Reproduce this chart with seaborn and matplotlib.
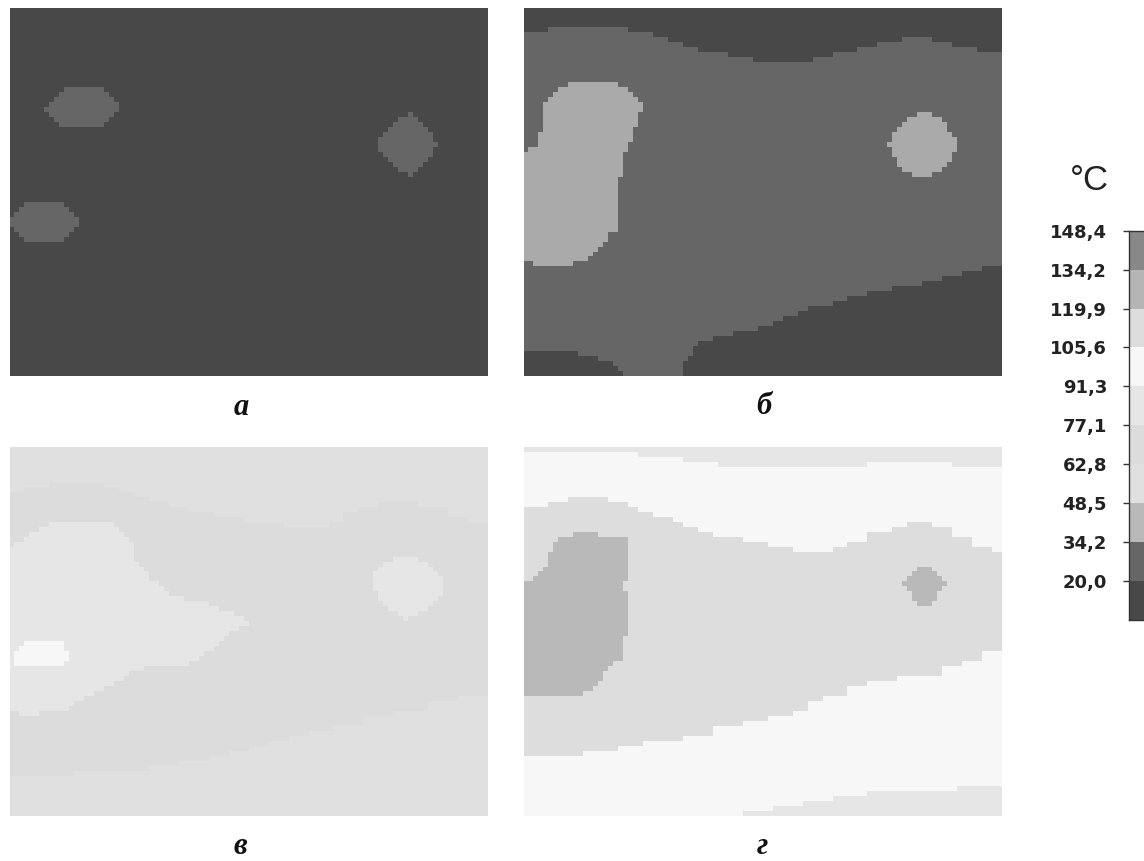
import numpy as np
import matplotlib
matplotlib.use('Agg')
import matplotlib.pyplot as plt
from matplotlib.colors import ListedColormap
import seaborn as sns

# --- data: every panel is a 74 x 96 grid of temperature bands ---
N_ROWS = 74
N_COLS = 96

# band colours, coldest first; the last one is the lighter shade of panel б
band_colors = ['#484848', '#666666', '#b9b9b9', '#e0e0e0', '#dcdcdc',
               '#e6e6e6', '#f7f7f7', '#dddddd', '#b5b5b5', '#888888', '#aaaaaa']
scale_labels = ['148,4', '134,2', '119,9', '105,6', '91,3', '77,1', '62,8', '48,5', '34,2', '20,0']
scale_bands = [9, 8, 7, 6, 5, 4, 3, 2, 1, 0]
panel_labels = ['а', 'б', 'в', 'г']

# panel а: (first row, spans per row)
a_spot_left_top = (16, [(11, 19), (10, 20), (9, 21), (8, 22), (7, 22), (8, 21), (9, 20), (10, 19)])
a_spot_left_low = (39, [(3, 11), (2, 12), (1, 13), (0, 14), (0, 14), (1, 13), (2, 12), (3, 11)])
a_spot_right = (21, [(80, 81), (78, 82), (77, 83), (76, 84), (75, 85), (74, 85), (74, 86), (74, 85),
                     (75, 85), (76, 84), (77, 83), (78, 82), (80, 81)])

# panel б: (depth, number of columns)
b_top = [(5, 5), (4, 16), (5, 5), (6, 3), (7, 3), (8, 3), (9, 6), (10, 5), (11, 12), (10, 4),
         (9, 5), (8, 4), (7, 5), (6, 6), (7, 4), (8, 5), (9, 5)]
b_bottom = [(5, 11), (4, 4), (3, 3), (2, 1), (1, 1), (0, 12), (3, 1), (4, 1), (6, 1), (7, 3), (8, 4),
            (9, 5), (10, 3), (11, 2), (12, 3), (13, 2), (14, 5), (15, 3), (16, 4), (17, 5), (18, 6),
            (19, 4), (20, 4), (21, 4), (22, 4)]
b_blob = (15, [(9, 19), (7, 21), (6, 22), (5, 23), (4, 24), (4, 24), (4, 23), (4, 23), (4, 23), (4, 22),
               (3, 22), (3, 22), (3, 21), (1, 21), (0, 20), (0, 20), (0, 20), (0, 20), (0, 20), (0, 19),
               (0, 19), (0, 19), (0, 19), (0, 19), (0, 19), (0, 19), (0, 19), (0, 19), (0, 19), (0, 19),
               (0, 17), (0, 17), (0, 16), (0, 15), (0, 14), (0, 13), (2, 10)])
b_spot = (21, [(79, 82), (77, 84), (76, 85), (75, 85), (74, 86), (74, 87), (73, 87), (74, 87),
               (74, 86), (75, 86), (75, 85), (76, 84), (78, 82)])

# panel в
v_top = [(9, 3), (8, 5), (7, 11), (8, 3), (9, 3), (10, 3), (11, 4), (12, 4), (13, 5), (14, 6), (15, 8),
         (16, 9), (15, 3), (13, 3), (12, 4), (11, 8), (12, 6), (14, 4), (15, 4)]
v_bottom = [(8, 13), (9, 15), (10, 6), (11, 6), (12, 4), (13, 4), (14, 4), (15, 4), (16, 4), (17, 5),
            (18, 6), (20, 6), (21, 7), (23, 6), (24, 6)]
v_blob = (15, [(8, 21), (6, 22), (4, 23), (3, 24), (1, 25), (0, 25), (0, 25), (0, 25), (0, 26), (0, 27),
               (0, 28), (0, 28), (0, 30), (0, 31), (0, 32), (0, 35), (0, 40), (0, 42), (0, 45), (0, 47),
               (0, 48), (0, 46), (0, 44), (0, 43), (0, 42), (0, 41), (0, 39), (0, 38), (0, 36), (0, 27),
               (0, 24), (0, 23), (0, 21), (0, 19), (0, 17), (0, 15), (0, 13), (0, 12), (2, 6)])
v_hot = (39, [(3, 11), (2, 11), (1, 12), (1, 12), (1, 11)])
v_spot = (22, [(77, 82), (75, 84), (74, 85), (73, 86), (73, 87), (73, 87), (73, 87), (74, 87),
               (74, 86), (75, 85), (76, 84), (78, 82), (79, 80)])

# panel г
g_top_edge = [(1, 23), (2, 9), (3, 7), (4, 30), (3, 17), (4, 10)]
g_top = [(12, 5), (11, 4), (10, 8), (11, 4), (12, 2), (13, 3), (14, 4), (15, 2), (16, 3), (17, 3), (18, 6),
         (19, 5), (20, 5), (21, 8), (20, 3), (19, 4), (17, 5), (16, 3), (15, 5), (16, 4), (18, 4),
         (20, 4), (21, 2)]
g_bottom = [(12, 12), (13, 7), (14, 5), (15, 8), (16, 6), (18, 6), (19, 5), (20, 5), (21, 3), (23, 3),
            (24, 5), (26, 4), (27, 6), (28, 9), (30, 4), (31, 4), (33, 4)]
g_bottom_edge = [(0, 44), (1, 6), (2, 6), (3, 6), (4, 7), (5, 18), (6, 9)]
g_blob = (17, [(10, 15), (7, 21), (6, 21), (6, 21), (5, 21), (5, 21), (5, 21), (4, 21), (3, 21), (2, 21),
               (0, 20), (0, 20), (0, 21), (0, 21), (0, 21), (0, 21), (0, 21), (0, 21), (0, 21), (0, 21),
               (0, 21), (0, 20), (0, 20), (0, 20), (0, 20), (0, 20), (0, 18), (0, 17), (0, 16), (0, 16),
               (0, 15), (0, 14), (0, 12)])
g_spot = (24, [(79, 82), (78, 83), (77, 84), (76, 85), (77, 84), (78, 83), (78, 83), (79, 82)])


def paint_top(grid, runs, band):
    col = 0
    for depth, count in runs:
        grid[:depth, col:col + count] = band
        col += count


def paint_bottom(grid, runs, band):
    col = 0
    for depth, count in runs:
        if depth > 0:
            grid[-depth:, col:col + count] = band
        col += count


def paint_rows(grid, region, band):
    first_row, spans = region
    for i, (start, end) in enumerate(spans):
        grid[first_row + i, start:end] = band


# --- fill the grids ---
grid_a = np.zeros((N_ROWS, N_COLS), dtype=int)
paint_rows(grid_a, a_spot_left_top, 1)
paint_rows(grid_a, a_spot_left_low, 1)
paint_rows(grid_a, a_spot_right, 1)

grid_b = np.full((N_ROWS, N_COLS), 1)
paint_top(grid_b, b_top, 0)
paint_bottom(grid_b, b_bottom, 0)
paint_rows(grid_b, b_blob, 10)
paint_rows(grid_b, b_spot, 10)

grid_v = np.full((N_ROWS, N_COLS), 4)
paint_top(grid_v, v_top, 3)
paint_bottom(grid_v, v_bottom, 3)
paint_rows(grid_v, v_blob, 5)
paint_rows(grid_v, v_spot, 5)
paint_rows(grid_v, v_hot, 6)

grid_g = np.full((N_ROWS, N_COLS), 7)
paint_top(grid_g, g_top, 6)
paint_top(grid_g, g_top_edge, 5)
paint_bottom(grid_g, g_bottom, 6)
paint_bottom(grid_g, g_bottom_edge, 5)
paint_rows(grid_g, g_blob, 2)
paint_rows(grid_g, g_spot, 2)

# --- layout in pixels ---
W, H = 1144, 861
fig = plt.figure(figsize=(W / 100, H / 100), dpi=100, facecolor='white')
cmap = ListedColormap(band_colors)


def axes_px(x, y, w, h):
    return fig.add_axes([x / W, 1 - (y + h) / H, w / W, h / H])


panel_boxes = [(9.5, 7.5), (523.5, 7.5), (9.5, 447), (523.5, 447)]
label_pos = [(241, 415), (764, 414), (240, 854), (762, 854)]

for grid, box, name, pos in zip([grid_a, grid_b, grid_v, grid_g], panel_boxes, panel_labels, label_pos):
    ax = axes_px(box[0], box[1], 478.5, 368.5)
    sns.heatmap(grid, cmap=cmap, vmin=-0.5, vmax=10.5, cbar=False, ax=ax,
                xticklabels=False, yticklabels=False)
    fig.text(pos[0] / W, 1 - pos[1] / H, name, family='Liberation Serif', style='italic',
             weight='bold', fontsize=22, ha='center', va='baseline', color='#111111')

# --- temperature scale ---
ax_scale = axes_px(1129, 230.7, 20, 389.3)
sns.heatmap(np.array(scale_bands).reshape(-1, 1), cmap=cmap, vmin=-0.5, vmax=10.5, cbar=False,
            ax=ax_scale, xticklabels=False, yticklabels=False)
ax_scale.set_yticks(np.arange(len(scale_labels)))
ax_scale.set_yticklabels(scale_labels, rotation=0, family='DejaVu Sans', weight='bold', fontsize=13,
                         color='#222222')
ax_scale.tick_params(axis='y', length=4.3, width=1, color='#333333', pad=11.5)
for side in ['left', 'top', 'bottom']:
    ax_scale.spines[side].set_visible(True)
    ax_scale.spines[side].set_color('#333333')
    ax_scale.spines[side].set_linewidth(1)

fig.text(1070 / W, 1 - 190 / H, '°C', family='Liberation Sans', fontsize=25, ha='left', va='baseline',
         color='#222222')

fig.savefig('out.png', dpi=100)
